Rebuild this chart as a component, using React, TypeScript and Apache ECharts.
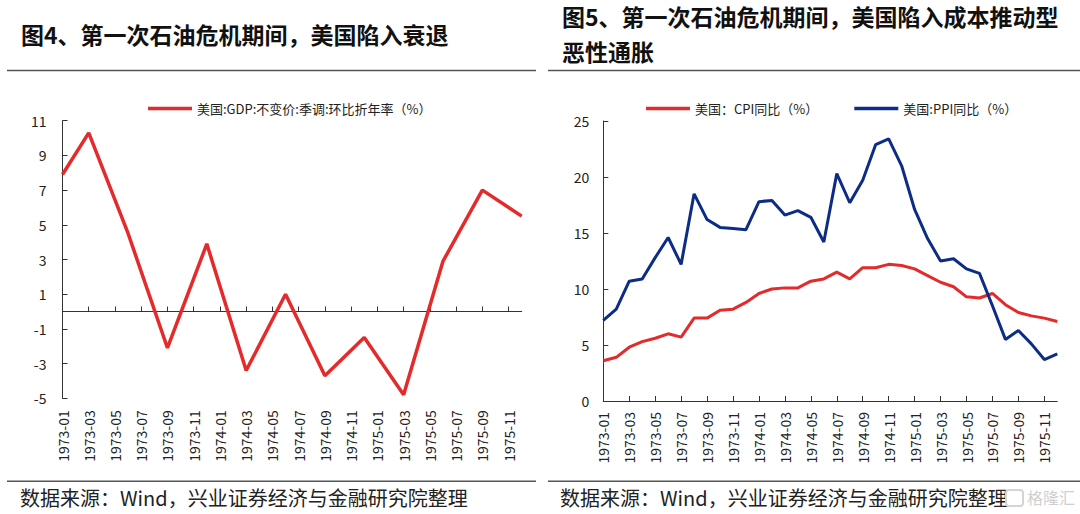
import React, { useEffect, useRef } from "react";
import * as echarts from "echarts";

const months = [
  "1973-01", "1973-02", "1973-03", "1973-04", "1973-05", "1973-06",
  "1973-07", "1973-08", "1973-09", "1973-10", "1973-11", "1973-12",
  "1974-01", "1974-02", "1974-03", "1974-04", "1974-05", "1974-06",
  "1974-07", "1974-08", "1974-09", "1974-10", "1974-11", "1974-12",
  "1975-01", "1975-02", "1975-03", "1975-04", "1975-05", "1975-06",
  "1975-07", "1975-08", "1975-09", "1975-10", "1975-11", "1975-12",
];

// US real GDP, SAAR q/q (%), plotted at quarter-end months
const gdp = [
  7.9, null, 10.3, null, null, 4.5,
  null, null, -2.1, null, null, 3.9,
  null, null, -3.4, null, null, 1.0,
  null, null, -3.7, null, null, -1.5,
  null, null, -4.8, null, null, 2.9,
  null, null, 7.0, null, null, 5.5,
];

// US CPI y/y (%)
const cpi = [
  3.6, 3.9, 4.8, 5.3, 5.6, 6.0, 5.7, 7.4, 7.4, 8.1, 8.2, 8.8,
  9.6, 10.0, 10.1, 10.1, 10.7, 10.9, 11.5, 10.9, 11.9, 11.9, 12.2, 12.1,
  11.8, 11.2, 10.6, 10.2, 9.3, 9.2, 9.6, 8.6, 7.9, 7.6, 7.4, 7.1,
];

// US PPI y/y (%)
const ppi = [
  7.2, 8.2, 10.7, 10.9, 12.8, 14.6, 12.2, 18.5, 16.2, 15.5, 15.4, 15.3,
  17.8, 17.9, 16.6, 17.0, 16.4, 14.2, 20.3, 17.7, 19.7, 22.9, 23.4, 21.0,
  17.1, 14.5, 12.5, 12.7, 11.8, 11.4, 8.5, 5.5, 6.3, 5.1, 3.7, 4.2,
];

const gdpTicks = [-5, -3, -1, 1, 3, 5, 7, 9, 11];

const gdpName = "美国:GDP:不变价:季调:环比折年率（%）";
const cpiName = "美国：CPI同比（%）";
const ppiName = "美国:PPI同比（%）";

const title4 = "图4、第一次石油危机期间，美国陷入衰退";
const title5a = "图5、第一次石油危机期间，美国陷入成本推动型";
const title5b = "恶性通胀";
const source = "数据来源：Wind，兴业证券经济与金融研究院整理";
const watermark = "格隆汇";

const FONT = "'Noto Sans CJK SC', 'Noto Sans', sans-serif";
const RED = "#E42A2A";
const BLUE = "#0D2C86";
const AX = "#333333";

function titleRich(t: string) {
  const num = t.charAt(1);
  return "{n|" + t.charAt(0) + "}{b|" + num + "}{n|" + t.slice(2) + "}";
}

export default function App() {
  const ref = useRef<HTMLDivElement>(null);

  useEffect(() => {
    if (!ref.current) return;
    const chart = echarts.init(ref.current, undefined, { renderer: "svg" });

    const richStyle = {
      n: { fontSize: 23, fontFamily: FONT, fill: "#111", fontWeight: "bold" },
      b: { fontSize: 23, fontFamily: FONT, fill: "#111", fontWeight: "bold" },
    };

    const catAxisBase = {
      type: "category",
      data: months,
      boundaryGap: false,
      splitLine: { show: false },
    };

    const option: any = {
      animation: false,
      backgroundColor: "#ffffff",
      textStyle: { fontFamily: FONT },
      legend: [
        {
          left: 143,
          top: 97,
          data: [gdpName],
          icon: "rect",
          itemWidth: 44,
          itemHeight: 3.5,
          itemGap: 36,
          textStyle: { fontSize: 13, color: "#222", fontFamily: FONT },
        },
        {
          left: 641,
          top: 97,
          data: [cpiName, ppiName],
          icon: "rect",
          itemWidth: 44,
          itemHeight: 3.5,
          itemGap: 36,
          textStyle: { fontSize: 13, color: "#222", fontFamily: FONT },
        },
      ],
      grid: [
        { left: 62.5, top: 120.7, width: 459.2, height: 277.6, containLabel: false },
        { left: 603.3, top: 121, width: 454, height: 280, containLabel: false },
      ],
      xAxis: [
        {
          ...catAxisBase,
          gridIndex: 0,
          axisLine: { show: true, onZero: true, lineStyle: { color: AX, width: 1 } },
          axisTick: { show: true, inside: true, interval: 1, length: 5, lineStyle: { color: AX } },
          axisLabel: { show: false },
        },
        {
          ...catAxisBase,
          gridIndex: 0,
          position: "bottom",
          axisLine: { show: false, onZero: false },
          axisTick: { show: false },
          axisLabel: {
            show: true,
            interval: 1,
            rotate: 90,
            margin: 12,
            fontSize: 14,
            color: "#222",
            fontFamily: FONT,
          },
        },
        {
          ...catAxisBase,
          gridIndex: 1,
          axisLine: { show: true, lineStyle: { color: AX, width: 1 } },
          axisTick: { show: true, inside: true, interval: 1, length: 5, lineStyle: { color: AX } },
          axisLabel: {
            show: true,
            interval: 1,
            rotate: 90,
            margin: 11,
            fontSize: 14,
            color: "#222",
            fontFamily: FONT,
          },
        },
      ],
      yAxis: [
        {
          type: "value",
          gridIndex: 0,
          min: -5,
          max: 11,
          splitLine: { show: false },
          axisLine: { show: true, lineStyle: { color: AX, width: 1 } },
          axisTick: { show: true, inside: true, length: 5, customValues: gdpTicks, lineStyle: { color: AX } },
          axisLabel: { customValues: gdpTicks, fontSize: 14, color: "#222", margin: 16, fontFamily: FONT },
        },
        {
          type: "value",
          gridIndex: 1,
          min: 0,
          max: 25,
          interval: 5,
          splitLine: { show: false },
          axisLine: { show: true, lineStyle: { color: AX, width: 1 } },
          axisTick: { show: true, inside: true, length: 5, lineStyle: { color: AX } },
          axisLabel: { fontSize: 14, color: "#222", margin: 14, fontFamily: FONT },
        },
      ],
      series: [
        {
          name: gdpName,
          type: "line",
          xAxisIndex: 0,
          yAxisIndex: 0,
          data: gdp,
          connectNulls: true,
          showSymbol: false,
          symbol: "none",
          color: RED,
          lineStyle: { color: RED, width: 3.5 },
        },
        {
          name: cpiName,
          type: "line",
          xAxisIndex: 2,
          yAxisIndex: 1,
          data: cpi,
          showSymbol: false,
          symbol: "none",
          color: RED,
          lineStyle: { color: RED, width: 3 },
        },
        {
          name: ppiName,
          type: "line",
          xAxisIndex: 2,
          yAxisIndex: 1,
          data: ppi,
          showSymbol: false,
          symbol: "none",
          color: BLUE,
          lineStyle: { color: BLUE, width: 3 },
        },
      ],
      graphic: [
        {
          type: "text",
          left: 21,
          top: 22,
          style: { text: titleRich(title4), rich: richStyle, fill: "#111" },
        },
        {
          type: "text",
          left: 562,
          top: 4,
          style: { text: titleRich(title5a), rich: richStyle, fill: "#111" },
        },
        {
          type: "text",
          left: 562,
          top: 39,
          style: { text: title5b, fontSize: 23, fontFamily: FONT, fontWeight: "bold", fill: "#111" },
        },
        {
          type: "line",
          shape: { x1: 7, y1: 70.5, x2: 536, y2: 70.5 },
          style: { stroke: "#555", lineWidth: 1.6 },
        },
        {
          type: "line",
          shape: { x1: 548, y1: 70.5, x2: 1080, y2: 70.5 },
          style: { stroke: "#555", lineWidth: 1.6 },
        },
        {
          type: "line",
          shape: { x1: 7, y1: 481.3, x2: 536, y2: 481.3 },
          style: { stroke: "#555", lineWidth: 1.6 },
        },
        {
          type: "line",
          shape: { x1: 548, y1: 481.3, x2: 1080, y2: 481.3 },
          style: { stroke: "#555", lineWidth: 1.6 },
        },
        {
          type: "text",
          left: 20,
          top: 487,
          style: { text: source, fontSize: 20, fontFamily: FONT, fill: "#222" },
        },
        {
          type: "text",
          left: 560,
          top: 487,
          style: { text: source, fontSize: 20, fontFamily: FONT, fill: "#222" },
        },
        {
          type: "rect",
          shape: { x: 1006, y: 490, width: 17, height: 16, r: 3 },
          style: { fill: "none", stroke: "#d4d4d4", lineWidth: 2 },
        },
        {
          type: "text",
          left: 1027,
          top: 489,
          style: { text: watermark, fontSize: 16, fontFamily: FONT, fill: "#cfcfcf" },
        },
      ],
    };

    chart.setOption(option);
    return () => chart.dispose();
  }, []);

  return (
    <div
      ref={ref}
      style={{ position: "fixed", left: 0, top: 0, width: 1080, height: 514, background: "#fff" }}
    />
  );
}
